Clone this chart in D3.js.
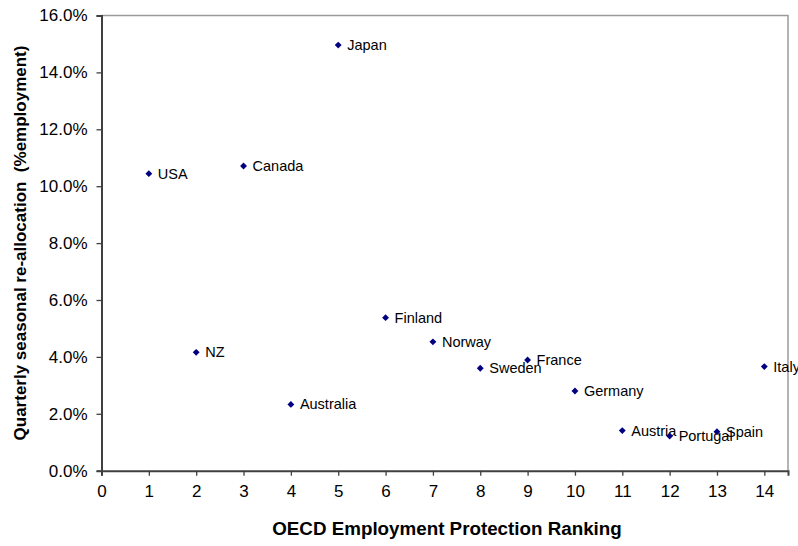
<!DOCTYPE html>
<html>
<head>
<meta charset="utf-8">
<script src="https://cdn.jsdelivr.net/npm/d3@7"></script>
<style>
  body { margin: 0; background: #fff; }
  svg { display: block; font-family: Arial, "Liberation Sans", sans-serif; }
</style>
</head>
<body>
<svg id="chart" width="798" height="546"></svg>
<script>
// data
const countries = ["USA", "NZ", "Canada", "Australia", "Japan", "Finland", "Norway",
                   "Sweden", "France", "Germany", "Austria", "Portugal", "Spain", "Italy"];
const ranking = [1, 2, 3, 4, 5, 6, 7, 8, 9, 10, 11, 12, 13, 14];
const realloc = [10.44, 4.16, 10.71, 2.33, 14.96, 5.38, 4.53, 3.60, 3.89, 2.80, 1.41, 1.22, 1.37, 3.66];

const xTicks = d3.range(0, 15);
const yTicks = [0, 2, 4, 6, 8, 10, 12, 14, 16];

function draw_chart() {
  const margin = ({top: 15.5, right: 10, bottom: 75.3, left: 101.5});
  const w = 798, h = 546;
  const svg = d3.select("#chart");

  const x = d3.scaleLinear().domain([0, 14.5]).range([margin.left, w - margin.right]);
  const y = d3.scaleLinear().domain([0, 16]).range([h - margin.bottom, margin.top]);

  //  frame (top / right in grey)
  svg.append("path")
    .attr("d", `M${x(0)},${y(16)}H${x(14.5)}V${y(0)}`)
    .attr("fill", "none")
    .attr("stroke", "#9a9a9a")
    .attr("stroke-width", 1.5);

  const xAxis = g => g
    .attr("transform", `translate(0,${y(0)})`)
    .call(d3.axisBottom(x).tickValues(xTicks).tickFormat(d3.format("d")).tickSize(5).tickPadding(9));

  const yAxis = g => g
    .attr("transform", `translate(${x(0)},0)`)
    .call(d3.axisLeft(y).tickValues(yTicks).tickFormat(d => d.toFixed(1) + "%").tickSize(5).tickPadding(9));

  [xAxis, yAxis].forEach(a => {
    const g = svg.append("g").call(a);
    g.selectAll("text")
      .style("font-size", "17px")
      .style("font-family", "Arial, 'Liberation Sans', sans-serif")
      .attr("fill", "#000");
    g.selectAll("line").attr("stroke", "#404040").attr("stroke-width", 1.3);
    g.select(".domain").attr("stroke", "#404040").attr("stroke-width", 2);
  });

  //  markers + labels
  const symbol = d3.symbol().type(d3.symbolDiamond2).size(30);
  countries.forEach((c, i) => {
    const px = x(ranking[i]), py = y(realloc[i]);
    svg.append("path")
      .attr("d", symbol())
      .attr("transform", `translate(${px},${py})`)
      .attr("fill", "#000080");
    svg.append("text")
      .attr("x", px + 9)
      .attr("y", py + 5)
      .text(c)
      .style("font-size", "14.5px")
      .attr("fill", "#000");
  });

  //  axis titles
  svg.append("text")
    .attr("x", 447)
    .attr("y", 535)
    .attr("text-anchor", "middle")
    .style("font-size", "18.8px")
    .style("font-weight", "bold")
    .text("OECD Employment Protection Ranking");

  svg.append("text")
    .attr("transform", `translate(26,243) rotate(-90)`)
    .attr("text-anchor", "middle")
    .style("font-size", "17px")
    .style("font-weight", "bold")
    .style("white-space", "pre")
    .text("Quarterly seasonal re-allocation  (%employment)");
}

draw_chart();
</script>
</body>
</html>
